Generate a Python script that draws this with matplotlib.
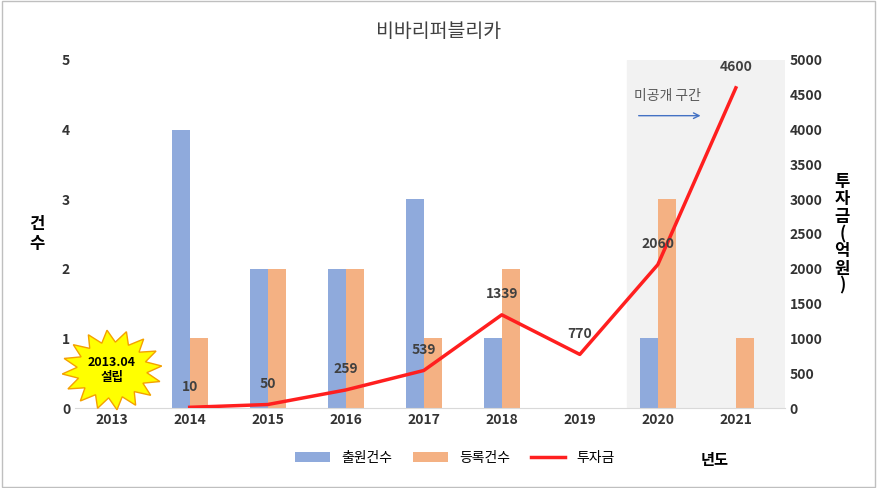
import matplotlib.pyplot as plt
import numpy as np
from matplotlib.patches import Polygon, Rectangle

plt.rcParams['font.family'] = ['Noto Sans CJK KR', 'DejaVu Sans']

years = ["2013", "2014", "2015", "2016", "2017", "2018", "2019", "2020", "2021"]
applied = [0, 4, 2, 2, 3, 1, 0, 1, 0]
registered = [0, 1, 2, 2, 1, 2, 0, 3, 1]
invest_years = ["2014", "2015", "2016", "2017", "2018", "2019", "2020", "2021"]
invest = [10, 50, 259, 539, 1339, 770, 2060, 4600]

fig = plt.figure(figsize=(8.77, 4.88), dpi=100)
fig.patches.append(Rectangle((0.002, 0.002), 0.996, 0.996, transform=fig.transFigure,
                             fill=False, edgecolor="#bfbfbf", lw=1))
ax = fig.add_axes([75 / 877, 80 / 488, 710 / 877, 348 / 488])
x = np.arange(len(years))
w = 0.23
ax.bar(x - w / 2, applied, w, color="#8faadc", label="출원건수")
ax.bar(x + w / 2, registered, w, color="#f4b183", label="등록건수")
ax.set_xlim(-0.47, 8.63)
ax.set_ylim(0, 5)
ax.set_xticks(x)
ax.set_xticklabels(years, fontsize=10, fontweight="bold", color="#333333")
ax.set_yticks(range(6))
ax.tick_params(axis="both", length=0, labelsize=10, colors="#333333")
for t in ax.get_yticklabels():
    t.set_fontweight("bold")
ax.set_ylabel("건\n수", rotation=0, fontsize=12, fontweight="bold", va="center", labelpad=18)
for s in ["top", "right", "left"]:
    ax.spines[s].set_visible(False)
ax.spines["bottom"].set_color("#d9d9d9")
ax.axvspan(6.6, 8.63, color="#f2f2f2", zorder=0)

ax2 = ax.twinx()
xi = [years.index(y) for y in invest_years]
ax2.plot(xi, invest, color="#ff1f1f", lw=2.5, label="투자금")
for xv, v in zip(xi, invest):
    ax2.annotate(str(v), (xv, v), xytext=(0, 12), textcoords="offset points",
                 ha="center", fontsize=10, fontweight="bold", color="#404040")
ax2.set_ylim(0, 5000)
ax2.set_yticks(range(0, 5001, 500))
ax2.tick_params(axis="y", length=0, labelsize=10, colors="#333333")
for t in ax2.get_yticklabels():
    t.set_fontweight("bold")
for s in ax2.spines.values():
    s.set_visible(False)
ax2.set_ylabel("투\n자\n금\n(\n억\n원\n)", rotation=0, fontsize=12, fontweight="bold",
               va="center", labelpad=14, linespacing=0.95)

ax.annotate("", xy=(0.885, 0.84), xytext=(0.79, 0.84), xycoords="axes fraction",
            arrowprops=dict(arrowstyle="->", color="#4472c4", lw=1))
ax.text(0.835, 0.885, "미공개 구간", transform=ax.transAxes, ha="center",
        fontsize=10, color="#595959")

# starburst
n = 16
ang = np.linspace(0, 2 * np.pi, 2 * n, endpoint=False) + 0.1
r = np.where(np.arange(2 * n) % 2 == 0, 1.0, 0.7)
cx, cy = (112 - 75) / 710, (408 - 370) / 348
pts = np.column_stack([cx + r * np.cos(ang) * 50 / 710, cy + r * np.sin(ang) * 40 / 348])
ax.add_patch(Polygon(pts, closed=True, transform=ax.transAxes, facecolor="#ffff00",
                     edgecolor="#f4a000", lw=1, clip_on=False, zorder=5))
ax.text(cx, cy, "2013.04\n설립", transform=ax.transAxes, ha="center", va="center",
        fontsize=9, fontweight="bold", zorder=6)

fig.text(0.5, 0.925, "비바리퍼블리카", ha="center", fontsize=14, color="#404040")
h1, l1 = ax.get_legend_handles_labels()
h2, l2 = ax2.get_legend_handles_labels()
fig.legend(h1 + h2, l1 + l2, loc="center", bbox_to_anchor=(455 / 877, 1 - 458 / 488),
           ncol=3, frameon=False, fontsize=10, handlelength=2.5, columnspacing=1.5)
fig.text(715 / 877, 1 - 460 / 488, "년도", ha="center", va="center", fontsize=11, fontweight="bold")
fig.savefig("out.png", dpi=100)
